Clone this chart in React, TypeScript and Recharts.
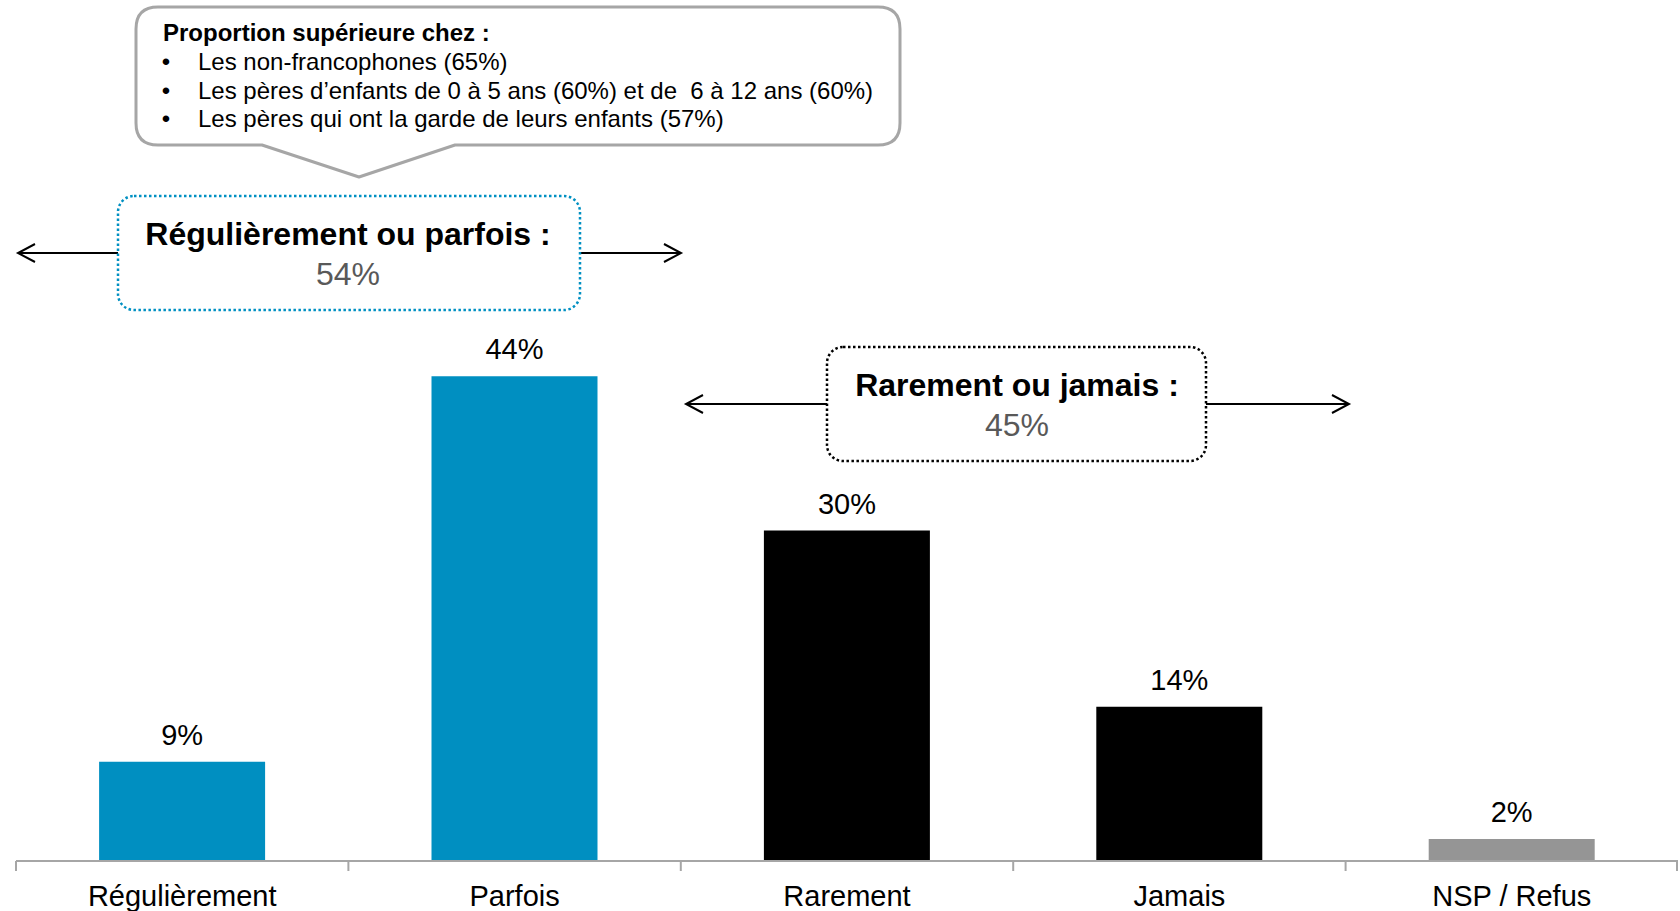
import React from 'react';
import { BarChart, Bar, XAxis, YAxis, Cell, LabelList } from 'recharts';

const categories = ['Régulièrement', 'Parfois', 'Rarement', 'Jamais', 'NSP / Refus'];
const values = [9, 44, 30, 14, 2];
const barColors = ['#008FC1', '#008FC1', '#000000', '#000000', '#959595'];

const calloutTitle = 'Proportion supérieure chez :';
const calloutItems = [
  'Les non-francophones (65%)',
  'Les pères d\u2019enfants de 0 à 5 ans (60%) et de  6 à 12 ans (60%)',
  'Les pères qui ont la garde de leurs enfants (57%)',
];
const groupTitles = ['Régulièrement ou parfois :', 'Rarement ou jamais :'];
const groupValues = ['54%', '45%'];

const data = categories.map((name, i) => ({ name, value: values[i] }));

const FONT = '"Liberation Sans", Arial, Helvetica, sans-serif';
const TICK_MARGIN = 24;
const W = 1680;
const H = 911;

function CategoryTick(props: any) {
  const { x, y, payload, index, visibleTicksCount, width } = props;
  const n = visibleTicksCount || categories.length;
  const band = (width || 0) / n;
  const axisY = y - TICK_MARGIN;
  return (
    <g>
      <line x1={x - band / 2} y1={axisY} x2={x - band / 2} y2={axisY + 10} stroke="#A6A6A6" strokeWidth={2} />
      {index === n - 1 && (
        <line x1={x + band / 2 - 1} y1={axisY} x2={x + band / 2 - 1} y2={axisY + 10} stroke="#A6A6A6" strokeWidth={2} />
      )}
      <text x={x} y={y} dy="0.71em" textAnchor="middle" fontSize={29} fontFamily={FONT} fill="#000">
        {payload.value}
      </text>
    </g>
  );
}

function Arrow({ x1, x2, y }: { x1: number; x2: number; y: number }) {
  const dir = x2 > x1 ? 1 : -1;
  return (
    <g stroke="#000" strokeWidth={2} fill="none">
      <line x1={x1} y1={y} x2={x2} y2={y} />
      <polyline points={`${x2 - dir * 17},${y - 9} ${x2},${y} ${x2 - dir * 17},${y + 9}`} />
    </g>
  );
}

function Overlay() {
  const callout =
    'M 158 7 L 878 7 Q 900 7 900 29 L 900 123 Q 900 145 878 145 L 455 145 L 359 177 L 262 145 L 158 145 Q 136 145 136 123 L 136 29 Q 136 7 158 7 Z';
  return (
    <svg width={W} height={H} style={{ position: 'absolute', left: 0, top: 0, pointerEvents: 'none' }}>
      <path d={callout} fill="#fff" stroke="#A6A6A6" strokeWidth={3} strokeLinejoin="round" />
      <text x={163} y={41} fontSize={24} fontWeight="bold" fontFamily={FONT} fill="#000">
        {calloutTitle}
      </text>
      {calloutItems.map((t, i) => (
        <g key={i}>
          <text x={166} y={70 + i * 28.7} fontSize={24} fontFamily={FONT} fill="#000" textAnchor="middle">
            {'\u2022'}
          </text>
          <text x={198} y={70 + i * 28.7} fontSize={24} fontFamily={FONT} fill="#000" xmlSpace="preserve" style={{ whiteSpace: 'pre' }}>
            {t}
          </text>
        </g>
      ))}

      <Arrow x1={118} x2={18} y={253} />
      <Arrow x1={580} x2={681} y={253} />
      <rect x={118} y={196} width={462} height={114} rx={16} ry={16} fill="#fff" stroke="#0090C2" strokeWidth={2.5} strokeDasharray="2.5 2.5" />
      <text x={348} y={245} textAnchor="middle" fontSize={32} fontWeight="bold" fontFamily={FONT} fill="#000">
        {groupTitles[0]}
      </text>
      <text x={348} y={285} textAnchor="middle" fontSize={32} fontFamily={FONT} fill="#595959">
        {groupValues[0]}
      </text>

      <Arrow x1={827} x2={686} y={404} />
      <Arrow x1={1206} x2={1349} y={404} />
      <rect x={827} y={347} width={379} height={114} rx={16} ry={16} fill="#fff" stroke="#000" strokeWidth={2.5} strokeDasharray="2.5 2.5" />
      <text x={1017} y={396} textAnchor="middle" fontSize={32} fontWeight="bold" fontFamily={FONT} fill="#000">
        {groupTitles[1]}
      </text>
      <text x={1017} y={436} textAnchor="middle" fontSize={32} fontFamily={FONT} fill="#595959">
        {groupValues[1]}
      </text>
    </svg>
  );
}

export default function App() {
  return (
    <div style={{ position: 'absolute', left: 0, top: 0, width: W, height: H, background: '#fff', overflow: 'hidden' }}>
      <BarChart width={W} height={H} data={data} margin={{ top: 200, right: 2, bottom: 0, left: 16 }} barCategoryGap="25%">
        <XAxis
          dataKey="name"
          height={50}
          axisLine={{ stroke: '#A6A6A6', strokeWidth: 2 }}
          tickLine={false}
          tickSize={0}
          tickMargin={TICK_MARGIN}
          tick={<CategoryTick />}
          interval={0}
        />
        <YAxis hide domain={[0, 60]} />
        <Bar dataKey="value" isAnimationActive={false}>
          {data.map((d, i) => (
            <Cell key={d.name} fill={barColors[i]} />
          ))}
          <LabelList
            dataKey="value"
            position="top"
            offset={17}
            formatter={(v: any) => `${v}%`}
            fill="#000"
            fontSize={29}
            fontFamily={FONT}
          />
        </Bar>
      </BarChart>
      <Overlay />
    </div>
  );
}
